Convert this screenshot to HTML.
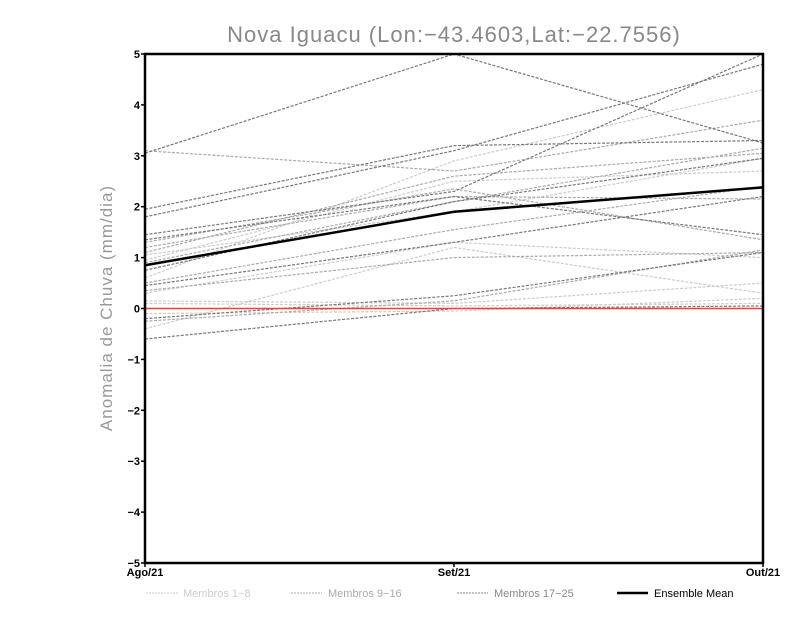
<!DOCTYPE html>
<html><head><meta charset="utf-8"><style>
body{margin:0;background:#fff;}
svg{display:block;font-family:"Liberation Sans",sans-serif;}
</style></head><body>
<svg id="chart" width="800" height="618" viewBox="0 0 800 618">
<text x="454" y="42" text-anchor="middle" font-size="22" fill="#888" letter-spacing="1">Nova Iguacu (Lon:−43.4603,Lat:−22.7556)</text>
<text transform="translate(112,308) rotate(-90)" text-anchor="middle" font-size="17" fill="#999" letter-spacing="1">Anomalia de Chuva (mm/dia)</text>
<g id="members"></g>
<g id="axes"></g>
<g id="legend">
<line x1="146" y1="593" x2="178" y2="593" stroke="#ccc" stroke-dasharray="2,1"/>
<text x="183" y="597" font-size="11" fill="#ccc">Membros 1−8</text>
<line x1="291" y1="593" x2="322" y2="593" stroke="#aaa" stroke-dasharray="2,1"/>
<text x="328" y="597" font-size="11" fill="#aaa">Membros 9−16</text>
<line x1="457" y1="593" x2="488" y2="593" stroke="#888" stroke-dasharray="2,1"/>
<text x="494" y="597" font-size="11" fill="#888">Membros 17−25</text>
<line x1="617" y1="593" x2="648" y2="593" stroke="#000" stroke-width="2.5"/>
<text x="654" y="597" font-size="11" fill="#000">Ensemble Mean</text>
</g>
</svg>
<script>
const categories=["Ago/21","Set/21","Out/21"];
const yTicks=[-5,-4,-3,-2,-1,0,1,2,3,4,5];
const membersAgo=[0.1,-0.4,0.3,0.6,0.15,-0.1,0.95,1.05, 0.5,1.1,0.9,-0.25,1.2,3.1,0.35,1.3, 3.05,1.95,1.8,1.45,1.35,0.45,-0.2,-0.6,0.75];
const membersSet=[0.05,1.2,1.3,2.9,0.1,-0.05,2.5,1.9, 1.55,2.6,2.1,0.15,2.2,2.7,1.0,2.35, 5.0,3.2,3.1,2.3,2.2,1.3,0.25,0.0,2.1];
const membersOut=[0.1,0.3,1.0,4.3,0.5,0.2,2.7,2.95, 2.4,3.05,3.15,1.15,2.15,3.7,1.1,1.35, 3.25,3.3,4.8,5.0,1.45,2.2,1.1,0.05,2.95];
const meanValues=[0.85,1.9,2.38];
const NS="http://www.w3.org/2000/svg";
const L=145,R=763,T=54,B=563;
function xs(i){return L+(R-L)*i/(categories.length-1);}
function ys(v){return T+(5-v)*(B-T)/10;}
const mg=document.getElementById('members');
const colors=["#ccc","#aaa","#777"];
for(let k=0;k<membersAgo.length;k++){
 const p=document.createElementNS(NS,'polyline');
 const vals=[membersAgo[k],membersSet[k],membersOut[k]];
 p.setAttribute('points',vals.map((v,i)=>xs(i)+','+ys(v)).join(' '));
 p.setAttribute('fill','none');
 p.setAttribute('stroke',colors[k<8?0:k<16?1:2]);
 p.setAttribute('stroke-width','1.2');
 p.setAttribute('stroke-dasharray','3,1.5');
 
 
 mg.appendChild(p);
}
const ax=document.getElementById('axes');
const zero=document.createElementNS(NS,'line');
zero.setAttribute('x1',L);zero.setAttribute('x2',R);zero.setAttribute('y1',ys(0));zero.setAttribute('y2',ys(0));
zero.setAttribute('stroke','#f04040');zero.setAttribute('stroke-width','1.5');


ax.appendChild(zero);
const mean=document.createElementNS(NS,'polyline');
mean.setAttribute('points',meanValues.map((v,i)=>xs(i)+','+ys(v)).join(' '));
mean.setAttribute('fill','none');mean.setAttribute('stroke','#000');mean.setAttribute('stroke-width','2.5');


ax.appendChild(mean);
const frame=document.createElementNS(NS,'rect');
frame.setAttribute('x',L);frame.setAttribute('y',T);frame.setAttribute('width',R-L);frame.setAttribute('height',B-T);
frame.setAttribute('fill','none');frame.setAttribute('stroke','#000');frame.setAttribute('stroke-width','2.5');


ax.appendChild(frame);
yTicks.forEach(v=>{
 const t=document.createElementNS(NS,'line');
 t.setAttribute('x1',L-4);t.setAttribute('x2',L);t.setAttribute('y1',ys(v));t.setAttribute('y2',ys(v));
 t.setAttribute('stroke','#000');t.setAttribute('stroke-width','1.5');
 
 
 ax.appendChild(t);
 const tx=document.createElementNS(NS,'text');
 tx.setAttribute('x',L-5);tx.setAttribute('y',ys(v)+4);tx.setAttribute('text-anchor','end');
 tx.setAttribute('font-size','11');tx.setAttribute('font-weight','bold');
 tx.textContent=v<0?'−'+(-v):String(v);
 
 
 ax.appendChild(tx);
});
categories.forEach((c,i)=>{
 const t=document.createElementNS(NS,'line');
 t.setAttribute('x1',xs(i));t.setAttribute('x2',xs(i));t.setAttribute('y1',B);t.setAttribute('y2',B+4);
 t.setAttribute('stroke','#000');t.setAttribute('stroke-width','1.5');
 
 
 ax.appendChild(t);
 const tx=document.createElementNS(NS,'text');
 tx.setAttribute('x',xs(i));tx.setAttribute('y',B+13);tx.setAttribute('text-anchor','middle');
 tx.setAttribute('font-size','11');tx.setAttribute('font-weight','bold');
 tx.textContent=c;
 
 
 ax.appendChild(tx);
});
</script>
</body></html>
